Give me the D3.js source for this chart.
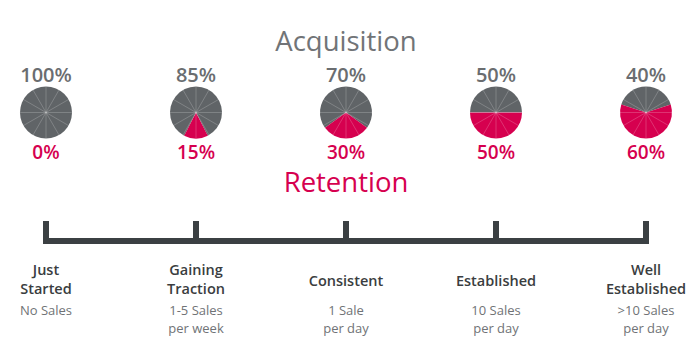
<!DOCTYPE html>
<html lang="en">
<head>
<meta charset="UTF-8">
<title>Acquisition vs Retention</title>
<script src="https://d3js.org/d3.v7.min.js"></script>
<style>
html, body { margin: 0; padding: 0; background: #fff; }
svg { display: block; font-family: "Open Sans", "Noto Sans", sans-serif; }
</style>
</head>
<body>
<script>
// stages along the timeline
const stages = ['Just Started', 'Gaining Traction', 'Consistent', 'Established', 'Well Established'];
const stageLines = [['Just', 'Started'], ['Gaining', 'Traction'], ['Consistent'], ['Established'], ['Well', 'Established']];
const salesLines = [['No Sales'], ['1-5 Sales', 'per week'], ['1 Sale', 'per day'], ['10 Sales', 'per day'], ['>10 Sales', 'per day']];
// percentage values
const acquisition = [100, 85, 70, 50, 40];
const retention = [0, 15, 30, 50, 60];

const w = 697, h = 362;
const grey = '#606467', red = '#d6004f', dark = '#3b4043';

const svg = d3.select('body').append('svg').attr('width', w).attr('height', h);

const x = d3.scalePoint().domain(stages).range([46, 646]);
const r = 26, pieY = 112.5;

svg.append('text').attr('x', 346).attr('y', 51).attr('text-anchor', 'middle')
    .attr('fill', '#717477').style('font-size', '27.5px').text('Acquisition');
svg.append('text').attr('x', 346).attr('y', 192).attr('text-anchor', 'middle')
    .attr('fill', red).style('font-size', '27.5px').text('Retention');

const arc = d3.arc().innerRadius(0).outerRadius(r);

stages.forEach((s, i) => {
    const g = svg.append('g').attr('transform', 'translate(' + x(s) + ',' + pieY + ')');
    const half = retention[i] / 100 * Math.PI;
    g.append('path').attr('d', arc({startAngle: Math.PI + half, endAngle: 3 * Math.PI - half})).attr('fill', grey);
    if (half > 0) g.append('path').attr('d', arc({startAngle: Math.PI - half, endAngle: Math.PI + half})).attr('fill', red);
    d3.range(6).forEach(k => {
        const a = k * Math.PI / 6;
        g.append('line')
            .attr('x1', -Math.sin(a) * r).attr('y1', Math.cos(a) * r)
            .attr('x2', Math.sin(a) * r).attr('y2', -Math.cos(a) * r)
            .attr('stroke', '#ffffff').attr('stroke-opacity', 0.25).attr('stroke-width', 0.8);
    });
    svg.append('text').attr('x', x(s)).attr('y', 82).attr('text-anchor', 'middle')
        .attr('fill', '#6a6d70').style('font-size', '20px').style('font-weight', 600).text(acquisition[i] + '%');
    svg.append('text').attr('x', x(s)).attr('y', 159).attr('text-anchor', 'middle')
        .attr('fill', red).style('font-size', '19px').style('font-weight', 600).text(retention[i] + '%');
});

// timeline
svg.append('rect').attr('x', x(stages[0]) - 3).attr('y', 238)
    .attr('width', x(stages[4]) - x(stages[0]) + 6).attr('height', 6).attr('fill', dark);
svg.selectAll('rect.tick').data(stages).enter().append('rect').attr('class', 'tick')
    .attr('x', d => x(d) - 3).attr('y', 221).attr('width', 6).attr('height', 20).attr('fill', dark);

stages.forEach((s, i) => {
    const lines = stageLines[i];
    const y0 = lines.length === 2 ? 275 : 286;
    lines.forEach((t, j) => {
        svg.append('text').attr('x', x(s)).attr('y', y0 + j * 19).attr('text-anchor', 'middle')
            .attr('fill', '#3a3d40').style('font-size', '14.5px').style('font-weight', 600).text(t);
    });
    salesLines[i].forEach((t, j) => {
        svg.append('text').attr('x', x(s)).attr('y', 315 + j * 18).attr('text-anchor', 'middle')
            .attr('fill', '#707376').style('font-size', '13px').text(t);
    });
});
</script>
</body>
</html>
